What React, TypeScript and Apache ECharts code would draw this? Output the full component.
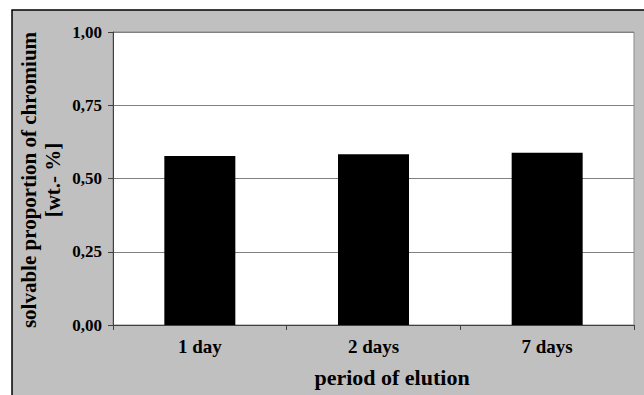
import React, { useEffect, useRef } from "react";
import * as echarts from "echarts";

const categories = ["1 day", "2 days", "7 days"];
const values = [0.577, 0.583, 0.588];
const yTicks = { min: 0, max: 1, interval: 0.25 };
const yTitleLines = ["solvable proportion of chromium", "[wt.- %]"];
const xTitle = "period of elution";

const FONT = "'Liberation Serif', 'Times New Roman', serif";

export default function App() {
  const ref = useRef<HTMLDivElement>(null);
  useEffect(() => {
    if (!ref.current) return;
    const chart = echarts.init(ref.current, undefined, { renderer: "svg" });
    chart.setOption({
      animation: false,
      backgroundColor: "#ffffff",
      graphic: [
        {
          type: "rect",
          z: -10,
          shape: { x: 12, y: 10, width: 640, height: 400 },
          style: { fill: "#c0c0c0", stroke: "#000000", lineWidth: 1.5 },
        },
        {
          type: "text",
          x: 29,
          y: 180,
          rotation: Math.PI / 2,
          style: {
            text: yTitleLines[0],
            font: `bold 21px ${FONT}`,
            fill: "#000",
            align: "center",
            verticalAlign: "middle",
          },
        },
        {
          type: "text",
          x: 53,
          y: 180,
          rotation: Math.PI / 2,
          style: {
            text: yTitleLines[1],
            font: `bold 21px ${FONT}`,
            fill: "#000",
            align: "center",
            verticalAlign: "middle",
          },
        },
        {
          type: "text",
          x: 392,
          y: 377,
          style: {
            text: xTitle,
            font: `bold 22px ${FONT}`,
            fill: "#000",
            align: "center",
            verticalAlign: "middle",
          },
        },
      ],
      grid: {
        left: 113,
        top: 32,
        width: 521,
        height: 293,
        show: true,
        backgroundColor: "#ffffff",
        borderColor: "#8a8a8a",
        borderWidth: 1,
      },
      xAxis: {
        type: "category",
        data: categories,
        boundaryGap: true,
        axisLine: { show: true, lineStyle: { color: "#404040", width: 1 } },
        axisTick: { show: true, inside: false, length: 5, alignWithLabel: false, lineStyle: { color: "#404040" } },
        axisLabel: {
          margin: 12,
          fontFamily: FONT,
          fontWeight: "bold",
          fontSize: 19,
          color: "#000",
        },
        splitLine: { show: false },
      },
      yAxis: {
        type: "value",
        min: yTicks.min,
        max: yTicks.max,
        interval: yTicks.interval,
        axisLine: { show: true, lineStyle: { color: "#404040", width: 1 } },
        axisTick: { show: true, inside: false, length: 5, lineStyle: { color: "#404040" } },
        axisLabel: {
          margin: 11,
          fontFamily: FONT,
          fontWeight: "bold",
          fontSize: 17,
          color: "#000",
          formatter: (v: number) => v.toFixed(2).replace(".", ","),
        },
        splitLine: { show: true, lineStyle: { color: "#808080", width: 1 } },
      },
      series: [
        {
          type: "bar",
          data: values,
          barWidth: 71,
          itemStyle: { color: "#000000" },
        },
      ],
    });
    return () => chart.dispose();
  }, []);
  return (
    <div
      ref={ref}
      style={{ position: "fixed", left: 0, top: 0, width: 644, height: 395 }}
    />
  );
}
